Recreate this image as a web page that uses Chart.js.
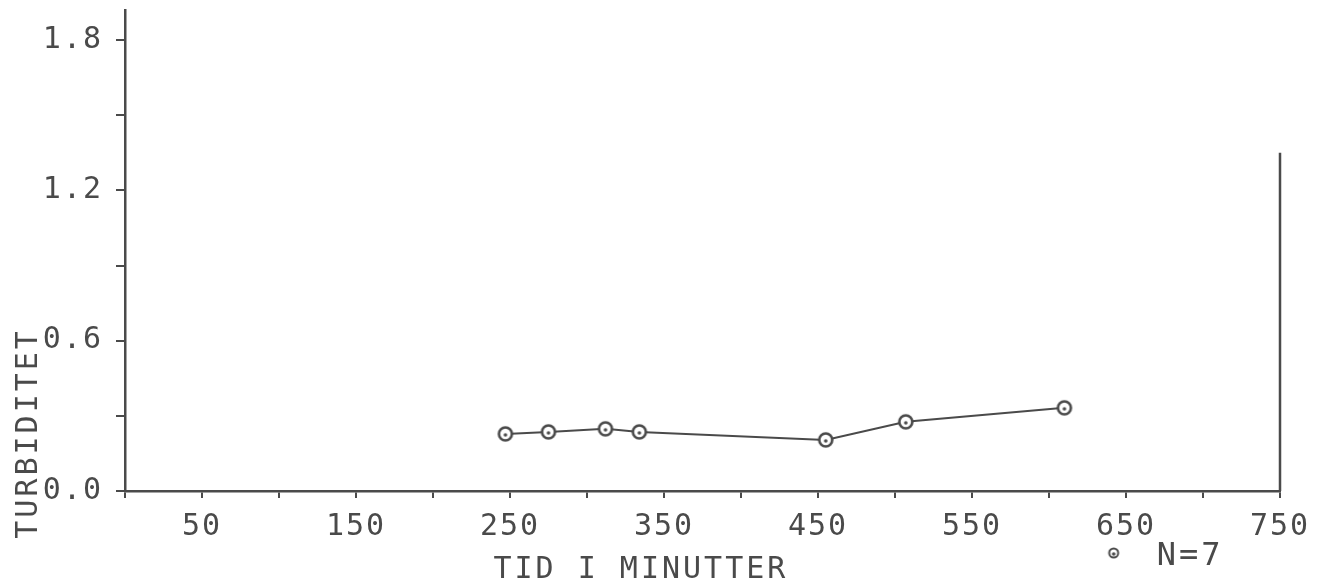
<!DOCTYPE html>
<html>
<head>
<meta charset="utf-8">
<title>Turbiditet</title>
<script src="https://cdn.jsdelivr.net/npm/chart.js@4.4.1/dist/chart.umd.min.js"></script>
<style>
  html, body { margin: 0; padding: 0; background: #fff; }
</style>
</head>
<body>
<canvas id="chart" width="1322" height="582"></canvas>
<script>
// values
const times = [247, 275, 312, 334, 455, 507, 610];
const turbidity = [0.228, 0.236, 0.248, 0.236, 0.204, 0.276, 0.332];
const xLabels = [50, 150, 250, 350, 450, 550, 650, 750];
const yLabels = [0.0, 0.6, 1.2, 1.8];
const frameX = [750, 750];
const frameY = [0, 1.35];

const xTitle = "TID I MINUTTER";
const yTitle = "TURBIDITET";
const legendText = "N=7";

const ink = "#4a4a4a";
const fontFamily = "'DejaVu Sans Mono', 'Liberation Mono', monospace";

function makeMarker(r, w) {
  const c = document.createElement("canvas");
  const s = Math.ceil(r * 2 + 5);
  c.width = s;
  c.height = s;
  const g = c.getContext("2d");
  g.strokeStyle = ink;
  g.lineWidth = w;
  g.fillStyle = "#fff";
  g.beginPath();
  g.arc(s / 2, s / 2, r, 0, Math.PI * 2);
  g.fill();
  g.stroke();
  g.fillStyle = ink;
  g.beginPath();
  g.arc(s / 2, s / 2 + 1, 1.8, 0, Math.PI * 2);
  g.fill();
  return c;
}

const marker = makeMarker(6.5, 2.6);
const legendMarker = makeMarker(4.5, 2);

const plotterText = {
  id: "plotterText",
  beforeUpdate(chart) {
    chart.ctx.letterSpacing = "2px";
  },
  beforeDraw(chart) {
    chart.ctx.letterSpacing = "2px";
  },
  afterDraw(chart) {
    const { ctx } = chart;
    const x = chart.scales.x;
    const y = chart.scales.y;
    ctx.save();
    ctx.fillStyle = ink;
    ctx.font = "30px " + fontFamily;
    ctx.letterSpacing = "3px";
    ctx.textAlign = "center";
    ctx.textBaseline = "alphabetic";

    // x title sits left of the axis centre, as on the plotter sheet
    ctx.fillText(xTitle, x.getPixelForValue(335), chart.height - 4);

    ctx.save();
    ctx.translate(37, y.getPixelForValue(0.23));
    ctx.rotate(-Math.PI / 2);
    ctx.fillText(yTitle, 0, 0);
    ctx.restore();

    // legend: marker + count
    const mx = x.getPixelForValue(642);
    const my = chart.height - 29;
    ctx.drawImage(legendMarker, mx - legendMarker.width / 2, my - legendMarker.height / 2);
    ctx.textAlign = "left";
    ctx.font = "32px " + fontFamily;
    ctx.fillText(legendText, x.getPixelForValue(670), chart.height - 17);
    ctx.restore();
  },
};

const tickFont = { family: fontFamily, size: 30 };

new Chart(document.getElementById("chart"), {
  type: "line",
  data: {
    datasets: [
      {
        data: times.map((t, i) => ({ x: t, y: turbidity[i] })),
        borderColor: ink,
        borderWidth: 2,
        pointStyle: marker,
        pointRadius: 7,
        tension: 0,
        clip: false,
      },
      {
        data: frameX.map((v, i) => ({ x: v, y: frameY[i] })),
        borderColor: ink,
        borderWidth: 2.5,
        pointRadius: 0,
        clip: false,
      },
    ],
  },
  options: {
    responsive: false,
    animation: false,
    layout: { padding: { top: 10, right: 42, bottom: 0, left: 0 } },
    plugins: {
      legend: { display: false },
      tooltip: { enabled: false },
    },
    scales: {
      x: {
        type: "linear",
        min: 0,
        max: 750,
        afterFit: (s) => {
          s.height = 91;
          s.paddingLeft = 0;
          s.paddingRight = 0;
        },
        border: { color: ink, width: 2.5 },
        grid: { drawOnChartArea: false, tickLength: 7, color: ink, lineWidth: 2 },
        ticks: {
          stepSize: 50,
          autoSkip: false,
          maxRotation: 0,
          includeBounds: false,
          padding: 11,
          color: ink,
          font: tickFont,
          callback: (v) => (xLabels.includes(v) ? String(v) : ""),
        },
      },
      y: {
        min: 0,
        max: 1.92,
        afterFit: (s) => {
          s.width = 125;
          s.paddingTop = 0;
          s.paddingBottom = 0;
        },
        border: { color: ink, width: 2.5 },
        grid: { drawOnChartArea: false, tickLength: 9, color: ink, lineWidth: 2 },
        ticks: {
          stepSize: 0.3,
          includeBounds: false,
          padding: 13,
          color: ink,
          font: tickFont,
          callback: (v) =>
            yLabels.some((l) => Math.abs(l - v) < 1e-6) ? v.toFixed(1) : "",
        },
      },
    },
  },
  plugins: [plotterText],
});
</script>
</body>
</html>
